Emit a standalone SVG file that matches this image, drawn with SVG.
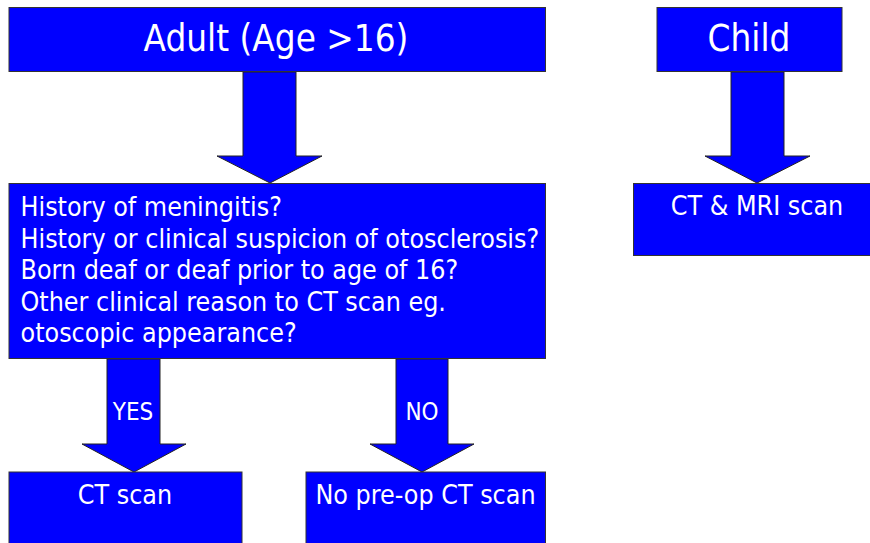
<svg xmlns="http://www.w3.org/2000/svg" width="870" height="543" viewBox="0 0 870 543">
<style>
.box{fill:#0000ff;stroke:#333;stroke-width:1}
.arr{fill:#0000ff;stroke:#222;stroke-width:1;stroke-linejoin:miter}
text{fill:#fff;font-family:"DejaVu Sans Condensed","DejaVu Sans",sans-serif}
.big{font-size:36.5px}
.q{font-size:26.6px}
.r{font-size:26.6px}
.lbl{font-size:24px}
</style>
<rect width="870" height="543" fill="#fff"/>
<g id="connectors">
<polygon class="arr" points="243,72 296,72 296,156 322,156 270,183 217,156 243,156"/>
<polygon class="arr" points="107,359 160,359 160,444 186,444 134,472 82,444 107,444"/>
<polygon class="arr" points="396,359 448,359 448,444 474,444 422,472 370,444 396,444"/>
<polygon class="arr" points="731,72 784,72 784,156 810,156 757,183 705,156 731,156"/>
<text class="lbl" x="133" y="420" text-anchor="middle">YES</text>
<text class="lbl" x="422" y="420" text-anchor="middle">NO</text>
</g>
<g id="adult">
<rect class="box" x="9" y="7.5" width="536.5" height="64"/>
<text class="big" x="276" y="51" text-anchor="middle">Adult (Age &gt;16)</text>
</g>
<g id="child">
<rect class="box" x="657" y="7.5" width="185" height="64"/>
<text class="big" x="749" y="51" text-anchor="middle">Child</text>
</g>
<g id="questions">
<rect class="box" x="9" y="183.5" width="536.5" height="175"/>
<text class="q" x="20.5" y="216">History of meningitis?</text>
<text class="q" x="20.5" y="247.5">History or clinical suspicion of otosclerosis?</text>
<text class="q" x="20.5" y="279">Born deaf or deaf prior to age of 16?</text>
<text class="q" x="20.5" y="310.5">Other clinical reason to CT scan eg.</text>
<text class="q" x="20.5" y="342">otoscopic appearance?</text>
</g>
<g id="ctmri">
<rect class="box" x="633.5" y="183.5" width="240" height="72"/>
<text class="r" x="757" y="215" text-anchor="middle">CT &amp; MRI scan</text>
</g>
<g id="ctscan">
<rect class="box" x="9" y="472" width="233" height="80"/>
<text class="r" x="125" y="504" text-anchor="middle">CT scan</text>
</g>
<g id="noct">
<rect class="box" x="306" y="472" width="239.5" height="80"/>
<text class="r" x="425.5" y="504" text-anchor="middle">No pre-op CT scan</text>
</g>
</svg>
